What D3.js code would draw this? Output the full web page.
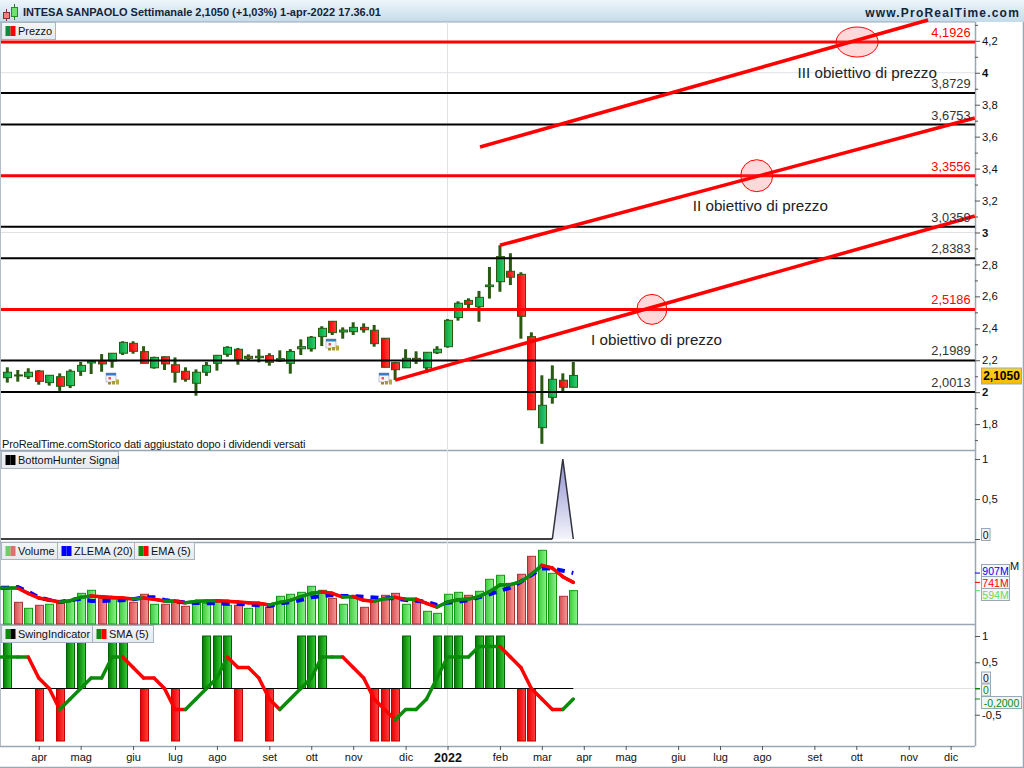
<!DOCTYPE html>
<html><head><meta charset="utf-8">
<script src="https://cdn.jsdelivr.net/npm/d3@7/dist/d3.min.js"></script>
<style>
html,body{margin:0;padding:0;background:#fff;overflow:hidden}
svg{display:block}
text{font-family:"Liberation Sans",Arial,sans-serif;fill:#111}
</style></head><body><svg id="c" width="1024" height="768"></svg>
<script>
// ---------- data ----------
const opens=[2.091,2.102,2.097,2.133,2.060,2.097,2.041,2.131,2.183,2.197,2.195,2.244,2.306,2.254,2.153,2.222,2.172,2.131,2.056,2.125,2.181,2.237,2.269,2.225,2.216,2.229,2.195,2.181,2.272,2.272,2.348,2.444,2.377,2.379,2.406,2.388,2.338,2.185,2.153,2.212,2.153,2.247,2.285,2.467,2.575,2.535,2.661,2.692,2.757,2.738,2.348,1.778,1.968,2.075,2.031];
const highs=[2.156,2.139,2.150,2.139,2.106,2.118,2.143,2.189,2.202,2.239,2.245,2.319,2.319,2.288,2.222,2.222,2.218,2.156,2.143,2.189,2.233,2.288,2.277,2.237,2.269,2.244,2.262,2.270,2.331,2.352,2.413,2.444,2.406,2.438,2.431,2.421,2.338,2.189,2.269,2.256,2.250,2.288,2.458,2.569,2.588,2.634,2.784,2.920,2.870,2.751,2.375,2.106,2.168,2.118,2.189];
const lows=[2.060,2.066,2.083,2.047,2.041,2.008,2.026,2.102,2.114,2.128,2.153,2.233,2.241,2.181,2.147,2.139,2.060,2.066,1.978,2.102,2.135,2.222,2.172,2.202,2.187,2.166,2.189,2.116,2.233,2.254,2.289,2.358,2.335,2.358,2.373,2.285,2.156,2.076,2.153,2.177,2.122,2.239,2.279,2.448,2.525,2.441,2.586,2.629,2.671,2.335,1.890,1.677,1.928,2.006,2.031];
const closes=[2.125,2.108,2.125,2.068,2.106,2.037,2.131,2.168,2.193,2.177,2.244,2.312,2.256,2.181,2.218,2.177,2.125,2.081,2.125,2.168,2.231,2.281,2.206,2.212,2.225,2.187,2.210,2.255,2.285,2.344,2.400,2.373,2.389,2.406,2.391,2.304,2.156,2.141,2.212,2.195,2.250,2.269,2.450,2.557,2.550,2.594,2.671,2.849,2.720,2.475,1.890,1.918,2.081,2.031,2.105];
const volumes=[641,386,279,333,351,368,404,546,600,457,440,422,386,529,351,351,386,315,386,368,386,333,333,279,333,297,493,529,564,671,600,457,351,457,297,404,511,546,351,404,226,190,529,564,511,582,796,867,724,885,1205,1312,902,493,594];
const volumeUp=[1,0,1,0,1,0,1,1,1,0,1,1,0,0,1,0,0,0,1,1,1,1,0,1,1,0,1,1,1,1,1,0,1,1,0,0,0,0,1,0,1,1,1,1,0,1,1,1,0,0,0,1,1,0,1];
const ema5=[640,640,546,463,427,391,415,474,498,486,474,463,445,463,439,409,410,380,403,409,415,403,391,380,368,338,385,421,486,546,569,546,480,490,421,403,451,474,439,441,368,302,391,433,445,486,575,694,700,753,884,1044,996,842,741];
const zlema20=[646,658,575,474,427,391,427,451,409,409,421,421,439,474,474,427,403,380,374,368,368,362,356,350,332,320,368,391,427,474,498,516,498,498,486,474,457,457,427,415,391,338,380,397,427,474,528,593,646,753,872,990,990,949,907];
const bottomHunter=[0,0,0,0,0,0,0,0,0,0,0,0,0,0,0,0,0,0,0,0,0,0,0,0,0,0,0,0,0,0,0,0,0,0,0,0,0,0,0,0,0,0,0,0,0,0,0,0,0,0,0,0,0,1,0];
const swing=[1,0,0,-1,0,-1,1,1,0,0,1,1,0,-1,0,0,-1,0,0,1,1,1,-1,0,0,-1,0,0,1,1,1,0,0,0,0,-1,-1,-1,1,0,0,1,1,1,0,1,1,1,0,-1,-1,0,0,0,0];
const sma5=[0.6,0.6,0.6,0.2,0,-0.4,-0.2,0,0.2,0.2,0.6,0.6,0.4,0.2,0.2,0,-0.4,-0.4,-0.2,0,0.2,0.6,0.4,0.4,0.2,-0.2,-0.4,-0.2,0,0.2,0.6,0.6,0.6,0.4,0.2,-0.2,-0.4,-0.6,-0.4,-0.4,-0.2,0.2,0.6,0.6,0.6,0.8,0.8,0.8,0.6,0.4,0,-0.2,-0.4,-0.4,-0.2];
const redLevels=[4.1926,3.3556,2.5186];
const blackLevels=[3.8729,3.6753,3.0359,2.8383,2.1989,2.0013];
const trendLines=[[37,2.076,92.3,3.103],[47,2.920,92.3,3.717],[45.1,3.535,87.85,4.330]];
const targetCircles=[[81.08,4.1926,21,15],[71.5,3.3556,16,16],[61.5,2.5186,15,15]];
const targetNotes=[["III obiettivo di prezzo",75.4,3.967],["II obiettivo di prezzo",65.4,3.137],["I obiettivo di prezzo",55.7,2.297]];
const calendarMarks=[[10,2.09],[31,2.30],[36,2.09]];
const priceMajor=[1.8,2,2.2,2.4,2.6,2.8,3,3.2,3.4,3.6,3.8,4,4.2];
const priceMinor=[1.7,1.9,2.1,2.3,2.5,2.7,2.9,3.1,3.3,3.5,3.7,3.9,4.1,4.3];
const monthTicks=[3,7,12,16,20,25,29,33,38,42,47,51,55,59,64,68,72,77,81,86,90];
const monthNames=["apr","mag","giu","lug","ago","set","ott","nov","dic","2022","feb","mar","apr","mag","giu","lug","ago","set","ott","nov","dic"];

// ---------- scales ----------
const x=d3.scaleLinear().domain([0,54]).range([7.3,573.3]);
const y=d3.scaleLinear().domain([2.0013,4.1926]).range([392,42]);
const yHunter=d3.scaleLinear().domain([0,1]).range([539,459]);
const yVol=d3.scaleLinear().domain([0,1442]).range([624,543]);
const ySwing=d3.scaleLinear().domain([-1,1]).range([741,636]);
const idx=opens.map((_,i)=>i);
const left=x.invert(1);
const AX="#9aa8b5";
const fmt=v=>String(v).replace(".",",");

const svg=d3.select("#c");
const defs=svg.append("defs");
function grad(id,stops,vert){
  const g=defs.append("linearGradient").attr("id",id).attr("x1",0).attr("y1",0).attr("x2",vert?0:1).attr("y2",vert?1:0);
  stops.forEach((c,i)=>g.append("stop").attr("offset",i/(stops.length-1)).attr("stop-color",c));
}
grad("title",["#eef5fb","#c4dbe9"],true);
grad("tab",["#f4f6f8","#e4e9ee"],true);
grad("gold",["#ffd21a","#f7bb00"],true);
grad("cg",["#06a040","#30d070"]);
grad("cr",["#f50000","#ff4040"]);
grad("vg",["#3ccc3c","#90f090"]);
grad("vr",["#d85050","#f49898"]);
grad("sg",["#007a00","#38cc38"]);
grad("sr",["#e80000","#ff4040"]);
grad("hunt",["#8f8fd0","#f4f4fb"],true);

// frames
svg.append("rect").attr("x",0).attr("y",0).attr("width",1024).attr("height",22).attr("fill","url(#title)");
svg.append("g").attr("stroke",AX).attr("stroke-width",1.5).selectAll("line")
 .data([[0,22,0,746],[975.5,22,975.5,746],[0,450.5,975,450.5],[0,542.5,975,542.5],[0,624.5,975,624.5],[0,746.5,975,746.5],[0,767.5,1024,767.5],[1023.5,22,1023.5,768]])
 .join("line").attr("x1",d=>d[0]).attr("y1",d=>d[1]).attr("x2",d=>d[2]).attr("y2",d=>d[3]);
svg.append("line").attr("x1",0).attr("x2",975).attr("y1",22).attr("y2",22).attr("stroke",AX);

// grid
const gridC="#dfe1e5";
svg.append("line").attr("x1",x(42)).attr("x2",x(42)).attr("y1",22).attr("y2",746).attr("stroke",gridC);
[4,3].forEach(v=>svg.append("line").attr("x1",1).attr("x2",975).attr("y1",y(v)).attr("y2",y(v)).attr("stroke",gridC));
svg.append("line").attr("x1",x(54)).attr("x2",975).attr("y1",ySwing(0)).attr("y2",ySwing(0)).attr("stroke",gridC);

// candles
const cw=8;
const gc=svg.append("g");
gc.selectAll("line").data(idx).join("line")
 .attr("x1",i=>x(i)).attr("x2",i=>x(i)).attr("y1",i=>y(highs[i])).attr("y2",i=>y(lows[i]))
 .attr("stroke","#2a5a12").attr("stroke-width",3);
gc.selectAll("rect").data(idx).join("rect")
 .attr("x",i=>Math.round(x(i)-cw/2)+.5).attr("width",cw)
 .attr("y",i=>y(Math.max(opens[i],closes[i])))
 .attr("height",i=>Math.max(1,Math.abs(y(opens[i])-y(closes[i]))))
 .attr("fill",i=>closes[i]>=opens[i]?"url(#cg)":"url(#cr)")
 .attr("stroke","#2a5a12").attr("stroke-width",1);

// calendar icons
const cal=svg.append("g").selectAll("g").data(calendarMarks).join("g")
 .attr("transform",d=>`translate(${Math.round(x(d[0]))-6},${Math.round(y(d[1]))-5})`);
cal.append("rect").attr("width",10).attr("height",9).attr("fill","#f2f4f8").attr("stroke","#b4b8c4").attr("stroke-width",.8);
cal.append("rect").attr("width",10).attr("height",2.5).attr("fill","#3b7cc4");
cal.append("rect").attr("x",2.5).attr("y",4).attr("width",2.5).attr("height",2.5).attr("fill","#f0506a");
cal.append("rect").attr("x",2).attr("y",9).attr("width",3).attr("height",2.5).attr("fill","#9a8a30");
cal.append("rect").attr("x",6).attr("y",8).attr("width",3).attr("height",3.5).attr("fill","#a89a3a");
cal.append("rect").attr("x",10).attr("y",6.5).attr("width",3).attr("height",5).attr("fill","#b8a83e");

// levels
svg.append("g").selectAll("line").data(blackLevels).join("line")
 .attr("x1",1).attr("x2",975).attr("y1",d=>y(d)).attr("y2",d=>y(d)).attr("stroke","#000").attr("stroke-width",2);
svg.append("g").selectAll("line").data(redLevels).join("line")
 .attr("x1",1).attr("x2",975).attr("y1",d=>y(d)).attr("y2",d=>y(d)).attr("stroke","#f00").attr("stroke-width",3);
// circles
svg.append("g").selectAll("ellipse").data(targetCircles).join("ellipse")
 .attr("cx",d=>x(d[0])).attr("cy",d=>y(d[1])).attr("rx",d=>d[2]).attr("ry",d=>d[3])
 .attr("fill","rgba(255,80,80,.22)").attr("stroke","#f00").attr("stroke-width",1);
// trends
svg.append("g").selectAll("line").data(trendLines).join("line")
 .attr("x1",d=>x(d[0])).attr("y1",d=>y(d[1])).attr("x2",d=>x(d[2])).attr("y2",d=>y(d[3]))
 .attr("stroke","#f00").attr("stroke-width",3.5);
// labels of levels
svg.append("g").selectAll("text").data(blackLevels.concat(redLevels)).join("text")
 .attr("x",970.5).attr("y",d=>y(d)-5).attr("text-anchor","end").attr("font-size",12.8)
 .style("fill",d=>redLevels.includes(d)?"#f00":"#333").text(d=>fmt(d.toFixed(4)));
svg.append("g").selectAll("text").data(targetNotes).join("text")
 .attr("x",d=>x(d[1])).attr("y",d=>y(d[2])).attr("font-size",15.2).style("fill","#222").text(d=>d[0]);
svg.append("text").attr("x",2).attr("y",448).attr("font-size",11).style("letter-spacing","-0.13px").text("ProRealTime.comStorico dati aggiustato dopo i dividendi versati");

// hunter
const huntPts=idx.filter(i=>i>=52);
svg.append("path").datum(huntPts)
 .attr("d",d3.area().x(i=>x(i)).y0(yHunter(0)).y1(i=>yHunter(bottomHunter[i])))
 .attr("fill","url(#hunt)");
svg.append("path").datum(huntPts)
 .attr("d",d3.line().x(i=>x(i)).y(i=>yHunter(bottomHunter[i])))
 .attr("fill","none").attr("stroke","#33333f").attr("stroke-width",1.5);
svg.append("line").attr("x1",x(left)).attr("x2",x(52)).attr("y1",yHunter(0)).attr("y2",yHunter(0)).attr("stroke","#000").attr("stroke-width",1.5);

// volume
svg.append("g").selectAll("rect").data(idx).join("rect")
 .attr("x",i=>Math.round(x(i)-cw/2)+.5).attr("width",cw)
 .attr("y",i=>yVol(volumes[i])).attr("height",i=>yVol(0)-yVol(volumes[i]))
 .attr("fill",i=>volumeUp[i]?"url(#vg)":"url(#vr)")
 .attr("stroke",i=>volumeUp[i]?"#129a12":"#a83232").attr("stroke-width",1);
const ln=d3.line();
function trend(values,scale,g,red,w){
  let up=true;
  const pts=[[x(left),scale(values[0])]].concat(values.map((v,i)=>[x(i),scale(v)]));
  for(let k=1;k<pts.length;k++){
    const d=pts[k][1]-pts[k-1][1];
    if(d<0)up=true; else if(d>0)up=false;
    g.append("path").attr("d",ln([pts[k-1],pts[k]])).attr("stroke",up?"#0a8c0a":red).attr("stroke-width",w).attr("stroke-linecap","round").attr("fill","none");
  }
}
trend(ema5,yVol,svg.append("g"),"#f00",3.5);
svg.append("path").attr("d",d3.line().x(i=>i<0?x(left):x(i)).y(i=>yVol(zlema20[Math.max(i,0)]))([-1].concat(idx)))
 .attr("fill","none").attr("stroke","#00f").attr("stroke-width",4).attr("stroke-dasharray","8 7");
trend(ema5,yVol,svg.append("g"),"#f00",3);

// swing
const sw=idx.filter(i=>swing[i]!==0);
svg.append("g").selectAll("rect").data(sw).join("rect")
 .attr("x",i=>Math.round(x(i)-cw/2)+.5).attr("width",cw)
 .attr("y",i=>swing[i]>0?ySwing(1):ySwing(0)).attr("height",i=>Math.abs(ySwing(swing[i])-ySwing(0)))
 .attr("fill",i=>swing[i]>0?"url(#sg)":"url(#sr)")
 .attr("stroke",i=>swing[i]>0?"#046004":"#c40000").attr("stroke-width",1);
svg.append("line").attr("x1",x(left)).attr("x2",x(54)).attr("y1",ySwing(0)).attr("y2",ySwing(0)).attr("stroke","#000").attr("stroke-width",1.2);
trend(sma5,ySwing,svg.append("g"),"#f00",3.5);

// axes
function styleAxis(g){
  g.select(".domain").remove();
  g.selectAll(".tick line").attr("stroke","#555");
  g.selectAll(".tick text").attr("font-size",11.3).attr("font-family",null).style("fill","#111");
}
const noZero=v=>v===0?"":fmt(v);
svg.append("g").attr("transform","translate(975,0)").call(d3.axisRight(y).tickValues(priceMinor).tickSize(3).tickFormat("")).call(styleAxis);
svg.append("g").attr("transform","translate(975,0)").call(d3.axisRight(y).tickValues(priceMajor).tickSize(5).tickPadding(2).tickFormat(fmt)).call(styleAxis)
 .selectAll(".tick text").attr("font-weight",d=>Number.isInteger(d)?"bold":null);
svg.append("g").attr("transform","translate(975,0)").call(d3.axisRight(yHunter).tickValues([0,.5,1]).tickSize(5).tickPadding(2).tickFormat(noZero)).call(styleAxis);
svg.append("g").attr("transform","translate(975,0)").call(d3.axisRight(ySwing).tickValues([-.5,0,.5,1]).tickSize(5).tickPadding(2).tickFormat(noZero)).call(styleAxis);
const ta=svg.append("g").attr("transform","translate(0,746)").call(d3.axisBottom(x).tickValues(monthTicks).tickSize(4).tickPadding(3).tickFormat((d,i)=>monthNames[i])).call(styleAxis);
ta.selectAll(".tick text").attr("font-weight",(d,i)=>monthNames[i]==="2022"?"bold":null).attr("font-size",(d,i)=>monthNames[i]==="2022"?12.5:11);

svg.append("text").attr("x",1010).attr("y",570).attr("font-size",11).text("M");

// value boxes
function box(xb,yc,w,h,txt,col,fill,bold,fs){
  svg.append("rect").attr("x",xb+.5).attr("y",yc-h/2+.5).attr("width",w).attr("height",h).attr("fill",fill).attr("stroke",AX);
  svg.append("text").attr("x",xb+w/2+.5).attr("y",yc+4.5).attr("text-anchor","middle").attr("font-size",fs||10.5).attr("font-weight",bold?"bold":null).style("fill",col).text(txt);
}
box(981,375.5,40,16,"2,1050","#000","url(#gold)",true,12);
box(981,534,8.5,12,"0","#111","#f3f3f3");
const valTicks=[[zlema20[54],"#00f"],[ema5[54],"#f00"],[volumes[54],"#5fdc5f"]];
svg.append("g").selectAll("line").data(valTicks).join("line").attr("x1",975).attr("x2",980).attr("y1",d=>yVol(d[0])).attr("y2",d=>yVol(d[0])).attr("stroke",d=>d[1]);
box(981,570,28,12,zlema20[54]+"M","#00f","#f6f6f6");
box(981,582,28,12,ema5[54]+"M","#f00","#f6f6f6");
box(981,594,28,12,volumes[54]+"M","#5fdc5f","#f6f6f6");
box(981,677,9,11,"0","#111","#f3f3f3");
box(981,689.5,9,12,"0","#0a8c0a","#f3f3f3");
box(981,702,40,12,fmt(sma5[54].toFixed(4)),"#0a8c0a","#f3f3f3");
svg.append("line").attr("x1",975).attr("x2",980).attr("y1",ySwing(0)).attr("y2",ySwing(0)).attr("stroke","#0a8c0a");
svg.append("line").attr("x1",975).attr("x2",980).attr("y1",ySwing(sma5[54])).attr("y2",ySwing(sma5[54])).attr("stroke","#0a8c0a");

// title bar
const ic=svg.append("g");
ic.append("line").attr("x1",6.5).attr("x2",6.5).attr("y1",9).attr("y2",21).attr("stroke","#7a3030");
ic.append("rect").attr("x",3.5).attr("y",12.5).attr("width",6).attr("height",6).attr("fill","#f08080").attr("stroke","#8a3030");
ic.append("line").attr("x1",14.5).attr("x2",14.5).attr("y1",4).attr("y2",20).attr("stroke","#2a7a2a");
ic.append("rect").attr("x",11.5).attr("y",7.5).attr("width",6).attr("height",9).attr("fill","#70e070").attr("stroke","#2a8a2a");
svg.append("text").attr("x",23).attr("y",16).attr("font-size",11).attr("font-weight","bold").style("fill","#14243a").text("INTESA SANPAOLO Settimanale 2,1050 (+1,03%) 1-apr-2022 17.36.01");
svg.append("text").attr("x",1020).attr("y",17).attr("text-anchor","end").attr("font-size",12).attr("font-weight","bold").style("letter-spacing","1.2px").style("fill","#14243a").text("www.ProRealTime.com");

// tabs
function tab(xt,yt,w,h,txt,c1,c2){
  svg.append("rect").attr("x",xt+.5).attr("y",yt+.5).attr("width",w).attr("height",h).attr("fill","url(#tab)").attr("stroke","#a8b4c0");
  svg.append("rect").attr("x",xt+4.5).attr("y",yt+4).attr("width",5).attr("height",10).attr("fill",c1);
  svg.append("rect").attr("x",xt+9.5).attr("y",yt+4).attr("width",5).attr("height",10).attr("fill",c2);
  svg.append("text").attr("x",xt+17).attr("y",yt+13).attr("font-size",11).text(txt);
}
tab(1,22,54,17,"Prezzo","#0a8c3a","#f00");
tab(1,451,117,17,"BottomHunter Signal","#000","#000");
tab(1,542,56,17,"Volume","#6ad06a","#e07070");
tab(57,542,77,17,"ZLEMA (20)","#00f","#00f");
tab(134,542,60,17,"EMA (5)","#0a8c0a","#f00");
tab(1,625,91,17,"SwingIndicator","#0a8c0a","#000");
tab(92,625,61,17,"SMA (5)","#0a8c0a","#f00");
</script></body></html>
